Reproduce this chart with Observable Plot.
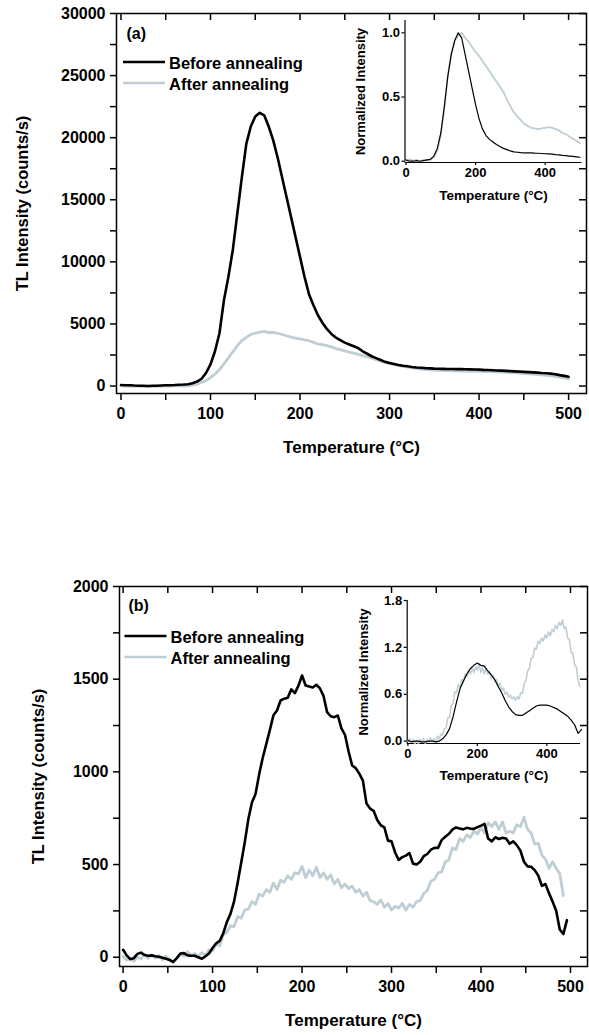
<!DOCTYPE html>
<html><head><meta charset="utf-8">
<script src="https://cdn.jsdelivr.net/npm/d3@7"></script>
<script src="https://cdn.jsdelivr.net/npm/@observablehq/plot@0.6"></script>
<style>
body{margin:0;background:#fff;}
#wrap{position:relative;width:589px;height:1035px;overflow:hidden;}
</style></head><body><div id="wrap"></div>
<script>
const FONT = '"Liberation Sans", Arial, Helvetica, sans-serif';
const BLACK = "#000000";
const GREY = "#bfcdd5";
const seriesNames = ["Before annealing", "After annealing"];

// ---------- Panel (a): main, 5 °C grid 0..500 ----------
const tempA = Array.from({length: 101}, (_, i) => i * 5);
const beforeA = [80,70,60,40,30,20,10,20,30,50,
  60,70,80,100,120,150,230,360,590,1050,
  1750,2800,4250,6900,8800,11000,13900,16800,19500,20900,
  21700,22000,21800,20900,19800,18400,16800,15200,13600,12000,
  10400,8800,7400,6500,5700,5100,4600,4200,3900,3700,
  3500,3350,3200,3050,2800,2600,2400,2250,2100,1950,
  1850,1780,1700,1640,1590,1540,1500,1470,1440,1420,
  1400,1390,1380,1375,1370,1360,1360,1350,1340,1330,
  1320,1300,1290,1270,1250,1240,1220,1200,1180,1160,
  1140,1120,1100,1080,1050,1030,1000,950,880,820,750];
const afterA = [20,0,-20,-10,0,-20,-30,-20,-10,0,
  -10,0,10,20,0,20,80,150,300,430,
  680,960,1330,1780,2270,2760,3250,3650,3920,4150,
  4250,4350,4400,4300,4320,4250,4150,4050,3950,3850,
  3800,3720,3650,3520,3400,3330,3250,3150,3020,2930,
  2830,2740,2650,2550,2450,2350,2250,2130,2000,1880,
  1800,1720,1640,1580,1520,1460,1410,1370,1340,1310,
  1290,1270,1250,1240,1230,1220,1210,1200,1190,1180,
  1180,1170,1160,1150,1140,1120,1100,1080,1060,1040,
  1010,990,960,930,900,870,840,780,720,650,580];

// ---------- Panel (a): inset, normalized, 10 °C grid 0..500 ----------
const tempInsetA = Array.from({length: 51}, (_, i) => i * 10);
const normBeforeA = [0.01,0,0,0.005,0,0.005,0.01,0.015,0.04,0.1,
  0.22,0.42,0.66,0.83,0.94,1.0,0.96,0.83,0.7,0.57,
  0.44,0.33,0.25,0.2,0.17,0.15,0.13,0.115,0.1,0.09,
  0.08,0.073,0.07,0.067,0.065,0.065,0.065,0.063,0.062,0.06,
  0.058,0.057,0.055,0.052,0.05,0.046,0.043,0.04,0.037,0.034,0.031];
const normAfterA = [0,0.015,0.005,0.01,0,0.01,0.005,0.01,0.03,0.08,
  0.2,0.42,0.66,0.84,0.94,0.98,1.0,0.96,0.93,0.89,
  0.85,0.82,0.78,0.74,0.7,0.66,0.62,0.58,0.54,0.48,
  0.43,0.38,0.35,0.32,0.29,0.275,0.26,0.255,0.25,0.255,
  0.26,0.265,0.26,0.25,0.24,0.22,0.21,0.19,0.175,0.16,0.14];

// ---------- Panel (b): main, 4 °C grid 0..496 ----------
const tempB = Array.from({length: 125}, (_, i) => i * 4);
const beforeB = [40,10,-10,-5,18,25,12,8,10,5,
  2,-3,-8,-15,-25,-5,20,22,10,8,
  8,0,-8,5,20,50,75,88,130,190,
  234,300,400,510,620,745,835,881,985,1075,
  1150,1225,1305,1331,1385,1395,1400,1445,1425,1465,
  1520,1466,1460,1455,1470,1450,1410,1322,1300,1295,
  1304,1235,1200,1110,1034,1020,990,953,830,802,
  790,740,712,701,629,625,565,525,540,548,
  562,505,500,515,545,557,580,590,590,632,
  650,665,688,700,695,690,698,694,692,702,
  710,719,640,625,647,638,644,640,612,625,
  605,575,515,490,488,470,440,385,395,345,
  300,251,150,125,200];
const afterB = [5,-15,-10,-20,0,-8,15,-5,12,-3,
  10,-15,5,-12,-30,-5,15,5,30,8,
  20,5,25,10,40,35,70,62,120,135,
  170,165,220,210,255,260,300,285,340,330,
  365,350,400,365,415,405,440,420,455,450,
  490,430,470,440,485,430,455,420,445,395,
  420,375,395,370,385,350,365,330,350,305,
  300,285,310,270,290,255,275,265,290,255,
  285,270,300,305,345,360,410,420,455,460,
  515,525,590,580,640,625,660,645,680,665,
  700,670,725,705,730,690,730,670,680,670,
  715,705,755,690,670,610,615,550,530,480,
  515,480,450,333,null];

// ---------- Panel (b): inset, normalized ----------
const normBeforeB = [0.01,-0.01,0,0,-0.01,-0.01,0,0,-0.01,0,
  0.03,0.08,0.16,0.31,0.5,0.67,0.77,0.86,0.93,0.97,
  1.0,0.97,0.96,0.9,0.85,0.79,0.7,0.62,0.52,0.44,
  0.38,0.34,0.33,0.33,0.36,0.39,0.42,0.45,0.46,0.46,
  0.46,0.45,0.43,0.41,0.38,0.35,0.32,0.27,0.21,0.1,0.15]; // 10 °C grid
const tempInsetB5 = Array.from({length: 101}, (_, i) => i * 5);
const normAfterB = [0,0.03,-0.01,0.02,-0.03,0.01,-0.03,0.02,-0.01,0.03,
  -0.03,0.02,-0.01,0.04,0,0.03,-0.01,0.06,0.03,0.09,
  0.08,0.16,0.17,0.3,0.3,0.46,0.48,0.63,0.62,0.72,
  0.69,0.79,0.76,0.86,0.83,0.91,0.86,0.94,0.88,0.95,
  0.91,0.99,0.88,0.94,0.86,0.92,0.86,0.89,0.8,0.84,
  0.76,0.79,0.71,0.74,0.65,0.68,0.6,0.63,0.56,0.59,
  0.54,0.57,0.52,0.57,0.54,0.62,0.61,0.74,0.78,0.9,
  0.93,1.06,1.07,1.19,1.18,1.28,1.25,1.32,1.28,1.36,
  1.32,1.4,1.35,1.43,1.4,1.48,1.44,1.52,1.48,1.55,
  1.44,1.46,1.32,1.3,1.14,1.12,0.98,0.95,0.78,0.7,null]; // 5 °C grid

// ---------- ticks ----------
const xTicksMain = [0,50,100,150,200,250,300,350,400,450,500];
const yTicksA = [0,2500,5000,7500,10000,12500,15000,17500,20000,22500,25000,27500,30000];
const yTicksB = [0,250,500,750,1000,1250,1500,1750,2000];
const xTicksInset = [0,200,400];
const yTicksInsetA = [0,0.5,1.0];
const yTicksInsetB = [0,0.6,1.2,1.8];

const xLabel = "Temperature (°C)";
const yLabel = "TL Intensity (counts/s)";
const yLabelInset = "Normalized Intensity";

const table = (t, a, b) => t.map((x, i) => ({t: x, before: a[i], after: b[i]}));
const dataA = table(tempA, beforeA, afterA);
const dataB = table(tempB, beforeB, afterB);
const insetA = table(tempInsetA, normBeforeA, normAfterA);
const insetBBlack = tempInsetA.map((x, i) => ({t: x, v: normBeforeB[i]}));
const insetBGrey = tempInsetB5.map((x, i) => ({t: x, v: normAfterB[i]}));

function legendMark(dx0, dy0, gap) {
  return (index, scales, values, dims) => {
    const g = d3.create("svg:g");
    const x0 = dims.marginLeft + dx0, y0 = dims.marginTop + dy0;
    [[BLACK, seriesNames[0]], [GREY, seriesNames[1]]].forEach(([c, t], i) => {
      const y = y0 + i * gap;
      g.append("line").attr("x1", x0).attr("x2", x0 + 42).attr("y1", y).attr("y2", y)
        .attr("stroke", c).attr("stroke-width", 2.7);
      g.append("text").attr("x", x0 + 46).attr("y", y + 1).attr("dy", "0.35em")
        .attr("text-anchor", "start")
        .attr("font-size", 16.5).attr("font-weight", "bold").attr("fill", "black").text(t);
    });
    return g.node();
  };
}

function mainPlot({data, yDomain, yTicks, yStep, height, mT, mB, mL, mR, xDomain, label, labelDx, labelDy, yLabelDx, legendDx, legendDy}) {
  const fw = 589 - mL - mR, fh = height - mT - mB;
  return Plot.plot({
    width: 589, height,
    marginLeft: mL, marginRight: mR, marginTop: mT, marginBottom: mB,
    x: {domain: xDomain}, y: {domain: yDomain},
    style: {fontFamily: FONT, fontSize: "16px", fontWeight: "bold", background: "transparent", overflow: "visible"},
    marks: [
      Plot.axisX({ticks: xTicksMain, tickFormat: d => d % 100 === 0 ? String(d) : "", tickSize: 7, tickPadding: 7, strokeWidth: 1.5, label: null}),
      Plot.axisY({ticks: yTicks, tickFormat: d => d % yStep === 0 ? String(d) : "", tickSize: 6, tickPadding: 5, strokeWidth: 1.5, label: null}),
      Plot.tickX(xTicksMain, {x: d => d, insetBottom: fh - 7, strokeWidth: 1.5}),
      Plot.tickY(yTicks, {y: d => d, insetLeft: fw - 7, strokeWidth: 1.5}),
      Plot.frame({strokeWidth: 1.5}),
      Plot.line(data, {x: "t", y: "after", stroke: GREY, strokeWidth: 2.8, strokeLinejoin: "round"}),
      Plot.line(data, {x: "t", y: "before", stroke: BLACK, strokeWidth: 2.6, strokeLinejoin: "round"}),
      Plot.text([label], {frameAnchor: "top-left", dx: labelDx, dy: labelDy, textAnchor: "start", lineAnchor: "middle", fontSize: 16}),
      Plot.text([xLabel], {frameAnchor: "bottom", dy: 54, textAnchor: "middle", lineAnchor: "middle", fontSize: 17}),
      Plot.text([yLabel], {frameAnchor: "left", dx: yLabelDx, rotate: -90, textAnchor: "middle", lineAnchor: "middle", fontSize: 16.5}),
      legendMark(legendDx, legendDy, 21)
    ]
  });
}

function insetPlot({marks, xDomain, yDomain, mL, mR, mT, mB, yTicks, yFmt, yLabelDx, xLabelDy}) {
  return Plot.plot({
    width: 249, height: 210,
    marginLeft: mL, marginRight: mR, marginTop: mT, marginBottom: mB,
    x: {domain: xDomain}, y: {domain: yDomain},
    style: {fontFamily: FONT, fontSize: "13px", fontWeight: "bold", background: "transparent", overflow: "visible"},
    marks: [
      Plot.axisX({ticks: xTicksInset, tickFormat: d => String(d), tickSize: 3, tickPadding: 2, strokeWidth: 1.2, label: null}),
      Plot.axisY({ticks: yTicks, tickFormat: yFmt, tickSize: 3, tickPadding: 2, strokeWidth: 1.2, label: null}),
      Plot.ruleX([xDomain[0]], {strokeWidth: 1.2}),
      Plot.ruleY([yDomain[0]], {strokeWidth: 1.2}),
      ...marks,
      Plot.text([xLabel], {frameAnchor: "bottom", dy: xLabelDy, textAnchor: "middle", lineAnchor: "middle", fontSize: 13.5}),
      Plot.text([yLabelInset], {frameAnchor: "left", dx: yLabelDx, rotate: -90, textAnchor: "middle", lineAnchor: "middle", fontSize: 13})
    ]
  });
}

const wrap = document.getElementById("wrap");
function place(node, left, top) {
  node.style.position = "absolute";
  node.style.left = left + "px";
  node.style.top = top + "px";
  node.style.maxWidth = "none";
  wrap.appendChild(node);
}

const pA = mainPlot({data: dataA, yDomain: [-600, 30000], yTicks: yTicksA, yStep: 5000,
  height: 480, mT: 13, mB: 87, mL: 116, mR: 3, xDomain: [-5, 520],
  label: "(a)", labelDx: 10, labelDy: 20, yLabelDx: -93.5, legendDx: 7, legendDy: 49});
const pB = mainPlot({data: dataB, yDomain: [-50, 2000], yTicks: yTicksB, yStep: 500,
  height: 555, mT: 106, mB: 69, mL: 119, mR: 2, xDomain: [-4, 519],
  label: "(b)", labelDx: 9, labelDy: 19, yLabelDx: -81, legendDx: 5.5, legendDy: 50});
place(pA, 0, 0);
place(pB, 0, 480);

const iA = insetPlot({
  marks: [
    Plot.line(insetA, {x: "t", y: "after", stroke: GREY, strokeWidth: 1.8, strokeLinejoin: "round"}),
    Plot.line(insetA, {x: "t", y: "before", stroke: BLACK, strokeWidth: 1.2, strokeLinejoin: "round"})
  ],
  xDomain: [-3, 506], yDomain: [-0.01, 1.096], mL: 64.5, mR: 7.5, mT: 20, mB: 48,
  yTicks: yTicksInsetA, yFmt: d3.format(".1f"), yLabelDx: -44.5, xLabelDy: 33});
const iB = insetPlot({
  marks: [
    Plot.line(insetBGrey, {x: "t", y: "v", stroke: GREY, strokeWidth: 1.6, strokeLinejoin: "round"}),
    Plot.line(insetBBlack, {x: "t", y: "v", stroke: BLACK, strokeWidth: 1.2, strokeLinejoin: "round"})
  ],
  xDomain: [-2, 497], yDomain: [-0.03, 1.8], mL: 66.7, mR: 9, mT: 20, mB: 47,
  yTicks: yTicksInsetB, yFmt: d3.format(".1f"), yLabelDx: -43, xLabelDy: 32});
place(iA, 340, 0);
place(iB, 340, 580);
</script></body></html>
